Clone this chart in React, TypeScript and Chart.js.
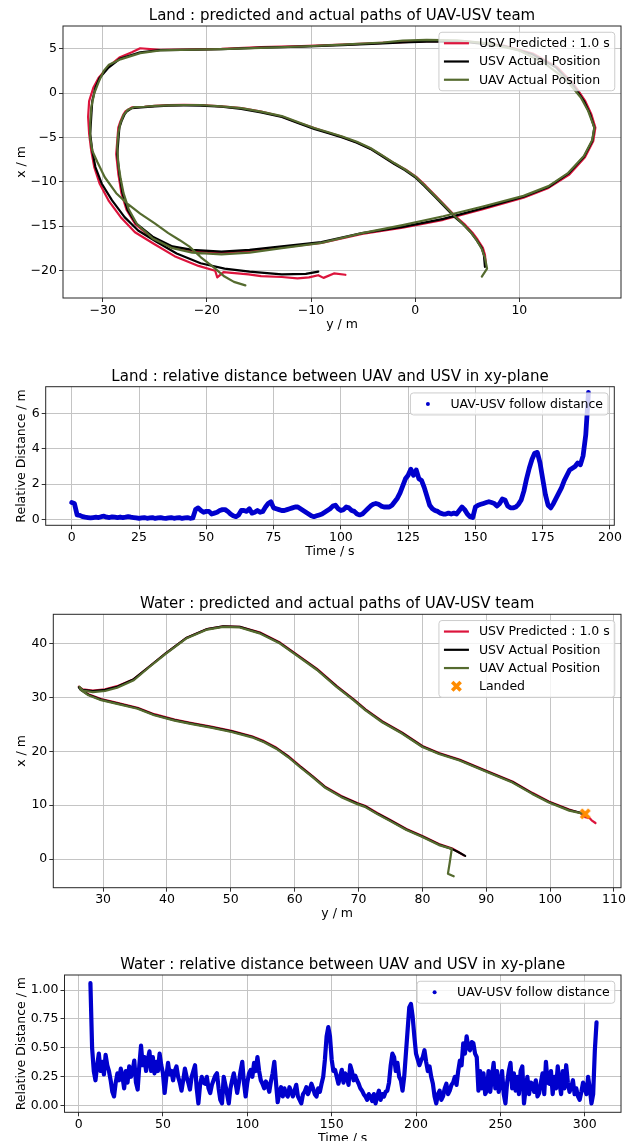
import React, { useEffect, useRef } from 'react';
import { Chart, registerables } from 'chart.js';

Chart.register(...registerables);

const FONT = '"DejaVu Sans", "Liberation Sans", sans-serif';
Chart.defaults.font.family = FONT;
Chart.defaults.font.size = 12.5;
Chart.defaults.color = '#000';

const RED = '#DC143C';
const BLACK = '#000000';
const GREEN = '#556B2F';
const BLUE = '#0000CD';
const ORANGE = '#FF8C00';

// ---------- Land: paths (horizontal = y / m, vertical = x / m)
const landUsvY = [6.7,6.6,6.4,5.9,5.4,4.6,3.8,2.9,1.9,0.9,0,-1,-2,-3.2,-4.3,-5.6,-7,-8.4,-9.7,-11.2,-12.8,-14.8,-16.7,-18.6,-20.6,-22.2,-23.7,-25,-26,-27.2,-27.7,-27.9,-28.2,-28.4,-28.5,-28.6,-28.5,-28.4,-28.1,-27.6,-26.8,-25.2,-23.3,-21.4,-18.6,-15.9,-12.8,-9,-5.1,-1.2,2.7,6.5,10.4,12.8,14.7,16.2,17.0,17.2,16.8,16.2,15.1,13.5,11.2,8.5,4.6,1.1,-1.2,-3.1,-7,-10.9,-14.8,-18.6,-22.5,-24.5,-26.4,-28.3,-29.5,-30.3,-30.7,-31,-31.1,-31.2,-31.0,-30.7,-30.1,-29.1,-27.9,-26.6,-24.8,-22.9,-20.6,-18.3,-15.9,-12.8,-10.5,-9.3];
const landUsvX = [-19.6,-18.3,-17.5,-16.6,-15.8,-14.8,-14.0,-12.9,-11.7,-10.5,-9.5,-8.7,-8.0,-7.1,-6.3,-5.6,-5.0,-4.5,-4.05,-3.4,-2.7,-2.2,-1.8,-1.55,-1.42,-1.4,-1.42,-1.5,-1.6,-1.7,-2.1,-2.4,-3.2,-3.9,-5.4,-6.9,-8,-9.1,-11.3,-13.2,-14.7,-16.2,-17.3,-17.7,-17.9,-17.7,-17.3,-16.8,-15.8,-15.1,-14.2,-13.0,-11.7,-10.6,-9.1,-7.2,-5.4,-3.9,-2.4,-0.9,1.0,2.9,4.4,5.3,5.8,5.8,5.7,5.6,5.4,5.24,5.13,4.94,4.87,4.83,4.6,3.9,2.8,1.7,0.6,-0.9,-2.7,-4.6,-6.5,-8.35,-10.2,-12.1,-14.0,-15.5,-16.8,-18.1,-19.2,-19.8,-20.15,-20.45,-20.4,-20.15];

const landPredY = [6.8,6.7,6.5,6.0,5.5,4.7,3.9,3.0,2.0,1.0,0.1,-0.9,-2,-3.2,-4.3,-5.6,-7,-8.4,-9.7,-11.2,-12.8,-14.8,-16.7,-18.6,-20.6,-22.2,-23.7,-25,-26,-27.2,-27.8,-28.0,-28.3,-28.5,-28.6,-28.7,-28.6,-28.5,-28.2,-27.7,-26.9,-25.3,-23.4,-21.4,-18.6,-15.9,-12.8,-9,-5.1,-1.2,2.7,6.5,10.4,12.8,14.8,16.3,17.1,17.3,16.9,16.3,15.2,13.6,11.3,8.5,4.6,1.1,-1.2,-3.1,-7,-10.9,-14.8,-18.6,-22.5,-24.5,-26.4,-27.2,-28.4,-29.6,-30.4,-30.9,-31.3,-31.4,-31.3,-31.1,-30.8,-30.3,-29.4,-28.2,-26.9,-25.1,-23.1,-20.8,-19.2,-19.0,-18.4,-16.0,-14.8,-12.8,-11.3,-10.2,-9.3,-8.8,-7.8,-6.7];
const landPredX = [-19.5,-18.25,-17.45,-16.55,-15.75,-14.75,-13.95,-12.85,-11.65,-10.45,-9.45,-8.65,-7.95,-7.05,-6.25,-5.55,-4.95,-4.45,-3.95,-3.35,-2.65,-2.1,-1.7,-1.5,-1.35,-1.33,-1.37,-1.45,-1.55,-1.62,-2.05,-2.4,-3.2,-3.9,-5.4,-6.9,-8,-9.1,-11.3,-13.2,-14.75,-16.3,-17.4,-17.8,-18.0,-17.8,-17.4,-16.9,-15.9,-15.2,-14.3,-13.1,-11.8,-10.7,-9.2,-7.25,-5.4,-3.9,-2.35,-0.85,1.05,2.95,4.45,5.35,5.85,5.85,5.75,5.65,5.45,5.3,5.17,4.97,4.9,4.87,5.05,4.6,4.0,2.8,1.7,0.6,-0.9,-2.7,-4.6,-6.5,-8.4,-10.2,-12.2,-14.1,-15.7,-17.0,-18.4,-19.5,-20.05,-20.8,-20.2,-20.45,-20.65,-20.75,-20.9,-20.8,-20.55,-20.85,-20.35,-20.5];

const landUavY = [6.4,6.9,6.7,6.4,5.9,5.4,4.6,3.8,2.9,1.9,0.9,0,-1,-2,-3.2,-4.3,-5.6,-7,-8.4,-9.7,-11.2,-12.8,-14.8,-16.7,-18.6,-20.6,-22.2,-23.7,-25,-26,-27,-27.6,-28,-28.3,-28.5,-28.6,-28.5,-28.3,-28.0,-27.5,-26.7,-25.2,-23.3,-21.4,-18.6,-15.9,-12.8,-9,-5.1,-1.2,2.7,6.5,10.4,12.8,14.7,16.2,17.0,17.2,16.6,15.9,14.5,12.5,10,7,4,1.1,-1.2,-3.1,-7,-10.9,-14.8,-18.6,-22.5,-24.5,-26.4,-28.3,-29.4,-29.9,-30.4,-30.8,-31.1,-31.2,-31.2,-31,-30.5,-29.8,-28.7,-27.6,-26.4,-25,-23.7,-22.6,-21.7,-20.6,-19.4,-18.3,-17.4,-16.3];
const landUavX = [-20.7,-19.8,-18.6,-17.6,-16.6,-15.8,-14.8,-13.9,-12.8,-11.6,-10.4,-9.4,-8.6,-7.9,-7.0,-6.2,-5.5,-4.9,-4.4,-3.95,-3.3,-2.6,-2.1,-1.7,-1.5,-1.35,-1.35,-1.4,-1.45,-1.55,-1.6,-1.9,-2.5,-3.4,-4.5,-6,-8,-9.5,-11.3,-13.1,-14.8,-16.4,-17.5,-18,-18.2,-18.0,-17.5,-16.9,-15.8,-14.9,-13.9,-12.8,-11.6,-10.5,-9.0,-7.1,-5.3,-3.9,-2.0,-0.5,1.5,3.3,4.8,5.6,5.95,6.0,5.9,5.7,5.45,5.25,5.1,4.95,4.87,4.8,4.5,3.8,3.2,2.5,1.2,0,-1.6,-3.4,-5,-6.5,-7.8,-9.5,-11.3,-12.5,-13.6,-14.7,-15.8,-16.6,-17.3,-18.5,-19.6,-20.7,-21.3,-21.7];

// ---------- Land: relative distance, sampled every second from t = 0 s
const landDistStart = 0;
const landDistStep = 1;
const landDist = [
  0.95,0.9,0.25,0.22,0.15,0.12,0.1,0.08,0.1,0.12,
  0.1,0.15,0.18,0.12,0.1,0.14,0.12,0.1,0.13,0.1,
  0.12,0.15,0.12,0.1,0.08,0.05,0.08,0.1,0.06,0.08,
  0.1,0.05,0.08,0.1,0.07,0.05,0.08,0.1,0.06,0.08,
  0.1,0.05,0.08,0.1,0.06,0.08,0.55,0.65,0.5,0.4,
  0.45,0.45,0.3,0.35,0.4,0.5,0.55,0.55,0.45,0.3,
  0.2,0.15,0.25,0.5,0.5,0.45,0.6,0.35,0.4,0.5,
  0.4,0.45,0.7,0.9,1.0,0.65,0.6,0.55,0.5,0.5,
  0.55,0.6,0.65,0.7,0.7,0.6,0.5,0.4,0.3,0.2,
  0.15,0.2,0.25,0.3,0.4,0.5,0.6,0.75,0.8,0.6,
  0.5,0.55,0.7,0.65,0.5,0.45,0.3,0.25,0.3,0.45,
  0.6,0.75,0.85,0.9,0.85,0.75,0.7,0.7,0.7,0.8,
  1.0,1.2,1.5,1.9,2.3,2.5,2.85,2.5,2.8,2.3,
  2.2,1.8,1.3,0.8,0.6,0.5,0.45,0.35,0.3,0.3,
  0.35,0.3,0.35,0.3,0.5,0.7,0.55,0.3,0.15,0.1,
  0.7,0.8,0.85,0.9,0.95,1.0,0.95,0.9,0.75,0.9,
  1.15,1.1,0.75,0.65,0.65,0.7,0.85,1.1,1.6,2.3,
  2.9,3.4,3.75,3.8,3.2,2.3,1.4,0.8,0.65,0.9,
  1.2,1.5,1.8,2.2,2.5,2.8,2.9,3.0,3.2,3.1,
  3.6,4.8,7.2
];

// ---------- Water: paths
const waterUsvY = [86.7,85.6,84.6,82.6,80,77.5,74.9,73,71,69.8,67.3,64.7,62.8,60.9,59,57.1,55.2,53.3,50.1,46.9,43.7,41.2,38,35.4,32.2,29.7,27.7,26.5,26.2,26.8,28.4,30.3,32.2,34.8,37.3,39.9,43.1,46.3,48.8,51.4,54.5,57.7,60.3,63.5,66.6,69.2,71.1,73.7,76.8,80,82.6,85.8,90.2,94.1,97.2,99.8,103,104.8];
const waterUsvX = [0.6,1.3,1.9,2.7,4.2,5.5,7.2,8.4,9.8,10.3,11.6,13.4,15.3,17.1,19,20.6,21.8,22.7,23.7,24.5,25.2,25.8,26.8,28,28.9,29.6,30.5,31.4,31.9,31.4,31.2,31.4,32,33.4,35.8,38.3,41.1,42.7,43.2,43.1,42,40.1,37.9,35.2,32,29.6,27.7,25.5,23.4,20.9,19.6,18.4,16.2,14.3,12.2,10.6,9.1,8.6];

const waterPredY = [86.5,85.5,84.6,82.6,80,77.5,74.9,73,71,69.8,67.3,64.7,62.8,60.9,59,57.1,55.2,53.3,50.1,46.9,43.7,41.2,38,35.4,32.2,29.7,27.7,26.5,26.2,26.8,28.4,30.3,32.2,34.8,37.3,39.9,43.1,46.3,48.8,51.4,54.5,57.7,60.3,63.5,66.6,69.2,71.1,73.7,76.8,80,82.6,85.8,90.2,94.1,97.2,99.8,103,104.8,105.5,106.2,106.5,107.1];
const waterPredX = [0.7,1.4,2.0,2.8,4.3,5.6,7.3,8.5,9.9,10.4,11.7,13.5,15.4,17.2,19.1,20.7,21.9,22.8,23.8,24.6,25.3,25.9,26.9,28.1,29.0,29.7,30.6,31.5,32.0,31.5,31.3,31.5,32.1,33.4,35.8,38.3,41.1,42.7,43.2,43.1,42.1,40.2,38.0,35.3,32.1,29.7,27.8,25.6,23.5,21.0,19.7,18.5,16.3,14.4,12.3,10.7,9.2,8.5,7.8,7.6,7.2,6.7];

const waterUavY = [84.9,84.0,84.3,84.6,82.6,80,77.5,74.9,73,71,69.8,67.3,64.7,62.8,60.9,59,57.1,55.2,53.3,50.1,46.9,43.7,41.2,38,35.4,32.2,29.7,27.7,26.5,26.3,26.8,28.4,30.3,32.2,34.8,37.3,39.9,43.1,46.3,48.8,51.4,54.5,57.7,60.3,63.5,66.6,69.2,71.1,73.7,76.8,80,82.6,85.8,90.2,94.1,97.2,99.8,103,105.3];
const waterUavX = [-3.2,-2.7,-0.5,1.9,2.6,4.1,5.4,7.1,8.3,9.7,10.2,11.5,13.3,15.2,17.0,18.9,20.5,21.7,22.6,23.6,24.4,25.1,25.7,26.7,27.9,28.8,29.5,30.4,31.4,32.0,31.3,31.0,31.2,31.8,33.2,35.7,38.2,41.0,42.6,43.1,43.0,41.9,40.0,37.8,35.1,31.9,29.5,27.6,25.4,23.3,20.8,19.5,18.3,16.1,14.2,12.1,10.5,9.0,8.4];

const landedY = [105.5];
const landedX = [8.4];

// ---------- Water: relative distance, sampled every second from t = 7 s
const waterDistStart = 7;
const waterDistStep = 1;
const waterDist = [
  1.06,0.5,0.3,0.22,0.35,0.45,0.3,0.38,0.27,0.44,
  0.35,0.3,0.22,0.12,0.08,0.2,0.28,0.22,0.32,0.25,
  0.15,0.3,0.2,0.34,0.25,0.3,0.39,0.2,0.14,0.35,
  0.52,0.35,0.42,0.3,0.4,0.47,0.3,0.42,0.28,0.38,
  0.3,0.45,0.35,0.28,0.11,0.25,0.37,0.27,0.3,0.22,
  0.3,0.34,0.25,0.2,0.13,0.22,0.32,0.25,0.2,0.14,
  0.25,0.3,0.35,0.15,0.02,0.18,0.25,0.2,0.19,0.25,
  0.15,0.11,0.18,0.22,0.26,0.28,0.15,0.05,0.02,0.25,
  0.18,0.1,0.02,0.15,0.22,0.28,0.2,0.11,0.2,0.3,
  0.38,0.2,0.08,0.2,0.28,0.31,0.25,0.37,0.3,0.42,
  0.3,0.22,0.19,0.15,0.21,0.18,0.12,0.21,0.28,0.38,
  0.2,0.03,0.12,0.16,0.08,0.15,0.1,0.08,0.16,0.12,
  0.08,0.13,0.18,0.08,0.05,0.02,0.1,0.12,0.16,0.1,
  0.14,0.19,0.15,0.1,0.08,0.15,0.12,0.19,0.25,0.4,
  0.6,0.68,0.6,0.4,0.3,0.31,0.25,0.19,0.25,0.31,
  0.2,0.28,0.25,0.18,0.35,0.3,0.22,0.26,0.22,0.19,
  0.15,0.13,0.1,0.08,0.05,0.1,0.08,0.04,0.1,0.02,
  0.08,0.13,0.05,0.1,0.08,0.12,0.13,0.2,0.35,0.45,
  0.42,0.3,0.37,0.25,0.22,0.13,0.25,0.45,0.65,0.85,
  0.88,0.77,0.6,0.45,0.4,0.35,0.39,0.42,0.48,0.38,
  0.3,0.34,0.25,0.19,0.08,0.02,0.1,0.13,0.05,0.08,
  0.15,0.19,0.1,0.13,0.18,0.2,0.25,0.18,0.3,0.39,
  0.35,0.54,0.45,0.6,0.5,0.48,0.55,0.54,0.45,0.42,
  0.13,0.3,0.15,0.28,0.1,0.13,0.3,0.12,0.25,0.37,
  0.15,0.3,0.12,0.19,0.3,0.1,0.02,0.2,0.3,0.37,
  0.15,0.28,0.13,0.25,0.1,0.3,0.34,0.02,0.15,0.25,
  0.1,0.2,0.19,0.12,0.22,0.08,0.11,0.2,0.28,0.1,
  0.38,0.2,0.19,0.3,0.1,0.25,0.15,0.34,0.2,0.1,
  0.3,0.15,0.35,0.2,0.12,0.16,0.22,0.1,0.15,0.08,
  0.05,0.12,0.2,0.15,0.1,0.25,0.15,0.02,0.1,0.48,
  0.72
];

// ---------- Tick values
const landPathXTicks = [-30, -20, -10, 0, 10];
const landPathYTicks = [-20, -15, -10, -5, 0, 5];
const landDistXTicks = [0, 25, 50, 75, 100, 125, 150, 175, 200];
const landDistYTicks = [0, 2, 4, 6];
const waterPathXTicks = [30, 40, 50, 60, 70, 80, 90, 100, 110];
const waterPathYTicks = [0, 10, 20, 30, 40];
const waterDistXTicks = [0, 50, 100, 150, 200, 250, 300];
const waterDistYTicks = [0, 0.25, 0.5, 0.75, 1.0];

const fmtInt = (v: number) => (v < 0 ? '\u2212' + Math.abs(v) : String(v));
const fmt2 = (v: number) => v.toFixed(2);

function pairs(xs: number[], ys: number[]) {
  return xs.map((v, i) => ({ x: v, y: ys[i] }));
}
function series(start: number, step: number, vals: number[]) {
  return vals.map((v, i) => ({ x: start + i * step, y: v }));
}

function drawX(ctx: CanvasRenderingContext2D, cx: number, cy: number, r: number, color: string) {
  ctx.save();
  ctx.strokeStyle = color;
  ctx.lineWidth = 3.6;
  ctx.lineCap = 'butt';
  ctx.beginPath();
  ctx.moveTo(cx - r, cy - r);
  ctx.lineTo(cx + r, cy + r);
  ctx.moveTo(cx + r, cy - r);
  ctx.lineTo(cx - r, cy + r);
  ctx.stroke();
  ctx.restore();
}

function makeXImage() {
  const c = document.createElement('canvas');
  c.width = 14;
  c.height = 14;
  const cx = c.getContext('2d')!;
  drawX(cx, 7, 7, 4.2, ORANGE);
  return c;
}

type LegendItem = { type: 'line' | 'dot' | 'x'; color: string; label: string };

const decorPlugin = {
  id: 'decor',
  afterDraw(chart: any, _args: any, opts: any) {
    const ctx: CanvasRenderingContext2D = chart.ctx;
    const a = chart.chartArea;
    ctx.save();
    ctx.strokeStyle = '#262626';
    ctx.lineWidth = 1;
    ctx.strokeRect(a.left, a.top, a.right - a.left, a.bottom - a.top);
    ctx.fillStyle = '#000';
    ctx.textAlign = 'center';
    ctx.textBaseline = 'middle';
    ctx.font = `15px ${FONT}`;
    ctx.fillText(opts.title, (a.left + a.right) / 2, a.top - 10);
    ctx.font = `12.5px ${FONT}`;
    ctx.fillText(opts.xLabel, (a.left + a.right) / 2, a.bottom + 26.5);
    ctx.save();
    ctx.translate(22, (a.top + a.bottom) / 2);
    ctx.rotate(-Math.PI / 2);
    ctx.fillText(opts.yLabel, 0, 0);
    ctx.restore();
    const items: LegendItem[] = opts.legend || [];
    if (items.length) {
      const fs = 12.5;
      ctx.font = `${fs}px ${FONT}`;
      const tw = Math.max(...items.map((it) => ctx.measureText(it.label).width));
      const pad = 0.4 * fs;
      const hl = 2 * fs;
      const htp = 0.8 * fs;
      const rowH = 12;
      const sp = 0.5 * fs;
      const w = pad + hl + htp + tw + pad;
      const h = 2 * pad + items.length * rowH + (items.length - 1) * sp;
      const right = a.right - 0.5 * fs;
      const top = a.top + 0.5 * fs;
      const left = right - w;
      const r = 3;
      ctx.beginPath();
      ctx.moveTo(left + r, top);
      ctx.lineTo(right - r, top);
      ctx.arcTo(right, top, right, top + r, r);
      ctx.lineTo(right, top + h - r);
      ctx.arcTo(right, top + h, right - r, top + h, r);
      ctx.lineTo(left + r, top + h);
      ctx.arcTo(left, top + h, left, top + h - r, r);
      ctx.lineTo(left, top + r);
      ctx.arcTo(left, top, left + r, top, r);
      ctx.closePath();
      ctx.fillStyle = 'rgba(255,255,255,0.8)';
      ctx.fill();
      ctx.strokeStyle = '#cccccc';
      ctx.lineWidth = 1;
      ctx.stroke();
      items.forEach((it, i) => {
        const cy = top + pad + rowH / 2 + i * (rowH + sp);
        const hx0 = left + pad;
        if (it.type === 'line') {
          ctx.strokeStyle = it.color;
          ctx.lineWidth = 2.2;
          ctx.beginPath();
          ctx.moveTo(hx0, cy);
          ctx.lineTo(hx0 + hl, cy);
          ctx.stroke();
        } else if (it.type === 'dot') {
          ctx.fillStyle = it.color;
          ctx.beginPath();
          ctx.arc(hx0 + hl / 2, cy, 2, 0, Math.PI * 2);
          ctx.fill();
        } else {
          drawX(ctx, hx0 + hl / 2, cy, 4.2, it.color);
        }
        ctx.fillStyle = '#000';
        ctx.textAlign = 'left';
        ctx.textBaseline = 'middle';
        ctx.fillText(it.label, hx0 + hl + htp, cy + 0.5);
      });
    }
    ctx.restore();
  },
};

type Geom = { padTop: number; yWidth: number; padRight: number; xHeight: number };

function scales(
  g: Geom,
  xr: [number, number],
  yr: [number, number],
  xt: number[],
  yt: number[],
  xf: (v: number) => string,
  yf: (v: number) => string
) {
  const grid = { color: '#c4c4c4', lineWidth: 1, drawTicks: true, tickLength: 4, tickColor: '#333', tickWidth: 1 };
  return {
    x: {
      type: 'linear',
      min: xr[0],
      max: xr[1],
      afterBuildTicks: (s: any) => {
        s.ticks = xt.map((v) => ({ value: v }));
      },
      afterFit: (s: any) => {
        s.height = g.xHeight;
      },
      ticks: { autoSkip: false, maxRotation: 0, minRotation: 0, padding: 1, color: '#000', font: { size: 12.5 }, callback: (v: any) => xf(Number(v)) },
      grid,
      border: { display: false },
    },
    y: {
      type: 'linear',
      min: yr[0],
      max: yr[1],
      afterBuildTicks: (s: any) => {
        s.ticks = yt.map((v) => ({ value: v }));
      },
      afterFit: (s: any) => {
        s.width = g.yWidth;
      },
      ticks: { autoSkip: false, padding: 2, color: '#000', font: { size: 12.5 }, callback: (v: any) => yf(Number(v)) },
      grid,
      border: { display: false },
    },
  };
}

function baseOptions(g: Geom, sc: any, decor: any) {
  return {
    animation: false,
    responsive: false,
    devicePixelRatio: 1,
    events: [],
    layout: { padding: { top: g.padTop, left: 0, right: g.padRight, bottom: 0 } },
    scales: sc,
    plugins: { legend: { display: false }, tooltip: { enabled: false }, title: { display: false }, decor },
  };
}

function lineDs(data: any[], color: string, order: number, width = 2.2) {
  return {
    data,
    borderColor: color,
    backgroundColor: color,
    borderWidth: width,
    showLine: true,
    pointRadius: 0,
    tension: 0,
    borderJoinStyle: 'round',
    borderCapStyle: 'round',
    order,
  };
}

function buildLandPath() {
  const g = { padTop: 26, yWidth: 63, padRight: 10, xHeight: 47 };
  return {
    type: 'scatter',
    data: {
      datasets: [
        lineDs(pairs(landPredY, landPredX), RED, 3),
        lineDs(pairs(landUsvY, landUsvX), BLACK, 2),
        lineDs(pairs(landUavY, landUavX), GREEN, 1),
      ],
    },
    options: baseOptions(g, scales(g, [-33.81, 19.76], [-23.12, 7.56], landPathXTicks, landPathYTicks, fmtInt, fmtInt), {
      title: 'Land : predicted and actual paths of UAV-USV team',
      xLabel: 'y / m',
      yLabel: 'x / m',
      legend: [
        { type: 'line', color: RED, label: 'USV Predicted : 1.0 s' },
        { type: 'line', color: BLACK, label: 'USV Actual Position' },
        { type: 'line', color: GREEN, label: 'UAV Actual Position' },
      ],
    }),
    plugins: [decorPlugin],
  };
}

function buildLandDist() {
  const g = { padTop: 41.7, yWidth: 45.7, padRight: 16.7, xHeight: 44.7 };
  return {
    type: 'scatter',
    data: { datasets: [lineDs(series(landDistStart, landDistStep, landDist), BLUE, 1, 4.8)] },
    options: baseOptions(g, scales(g, [-9.67, 201.6], [-0.34, 7.53], landDistXTicks, landDistYTicks, fmtInt, fmtInt), {
      title: 'Land : relative distance between UAV and USV in xy-plane',
      xLabel: 'Time / s',
      yLabel: 'Relative Distance / m',
      legend: [{ type: 'dot', color: BLUE, label: 'UAV-USV follow distance' }],
    }),
    plugins: [decorPlugin],
  };
}

function buildWaterPath() {
  const g = { padTop: 44.3, yWidth: 53.3, padRight: 10, xHeight: 47.3 };
  return {
    type: 'scatter',
    data: {
      datasets: [
        lineDs(pairs(waterPredY, waterPredX), RED, 4),
        lineDs(pairs(waterUsvY, waterUsvX), BLACK, 3),
        lineDs(pairs(waterUavY, waterUavX), GREEN, 2),
        {
          data: pairs(landedY, landedX),
          pointStyle: makeXImage(),
          pointRadius: 7,
          showLine: false,
          order: 1,
        },
      ],
    },
    options: baseOptions(g, scales(g, [22.2, 111.1], [-5.31, 45.44], waterPathXTicks, waterPathYTicks, fmtInt, fmtInt), {
      title: 'Water : predicted and actual paths of UAV-USV team',
      xLabel: 'y / m',
      yLabel: 'x / m',
      legend: [
        { type: 'line', color: RED, label: 'USV Predicted : 1.0 s' },
        { type: 'line', color: BLACK, label: 'USV Actual Position' },
        { type: 'line', color: GREEN, label: 'UAV Actual Position' },
        { type: 'x', color: ORANGE, label: 'Landed' },
      ],
    }),
    plugins: [decorPlugin],
  };
}

function buildWaterDist() {
  const g = { padTop: 40, yWidth: 64.5, padRight: 10, xHeight: 28.7 };
  return {
    type: 'scatter',
    data: { datasets: [lineDs(series(waterDistStart, waterDistStep, waterDist), BLUE, 1, 4.2)] },
    options: baseOptions(g, scales(g, [-8.36, 321.5], [-0.057, 1.13], waterDistXTicks, waterDistYTicks, fmtInt, fmt2), {
      title: 'Water : relative distance between UAV and USV in xy-plane',
      xLabel: 'Time / s',
      yLabel: 'Relative Distance / m',
      legend: [{ type: 'dot', color: BLUE, label: 'UAV-USV follow distance' }],
    }),
    plugins: [decorPlugin],
  };
}

function ChartBox({ top, height, build }: { top: number; height: number; build: () => any }) {
  const ref = useRef<HTMLCanvasElement>(null);
  useEffect(() => {
    const chart = new Chart(ref.current as HTMLCanvasElement, build());
    return () => chart.destroy();
  }, []);
  return (
    <div style={{ position: 'absolute', left: 0, top, width: 631, height }}>
      <canvas ref={ref} width={631} height={height} style={{ display: 'block', width: 631, height }} />
    </div>
  );
}

export default function App() {
  return (
    <div style={{ position: 'absolute', left: 0, top: 0, width: 631, height: 1141, background: '#fff', overflow: 'hidden' }}>
      <ChartBox top={0} height={345} build={buildLandPath} />
      <ChartBox top={345} height={225} build={buildLandDist} />
      <ChartBox top={570} height={365} build={buildWaterPath} />
      <ChartBox top={935} height={206} build={buildWaterDist} />
    </div>
  );
}
